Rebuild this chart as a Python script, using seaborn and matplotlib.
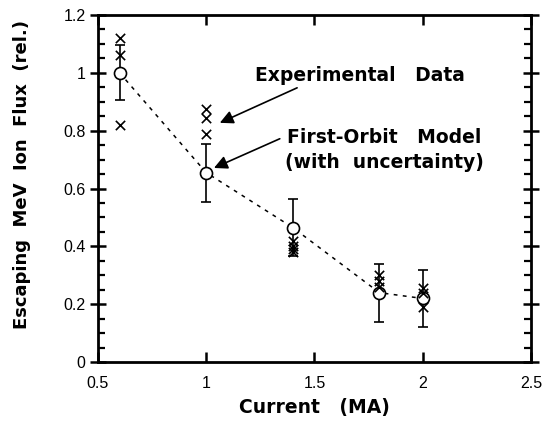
import numpy as np
import pandas as pd
import matplotlib
matplotlib.use("Agg")
import matplotlib.pyplot as plt
from matplotlib.ticker import MultipleLocator
import seaborn as sns

# Model prediction (first-orbit loss) with its uncertainty
model_current = [0.6, 1.0, 1.4, 1.8, 2.0]
model_flux = [1.0, 0.655, 0.465, 0.24, 0.22]
model_err = [0.095, 0.10, 0.10, 0.10, 0.10]

# Measured escaping flux
exp_current = [0.6, 0.6, 0.6, 1.0, 1.0, 1.0, 1.4, 1.4, 1.4, 1.4,
               1.8, 1.8, 1.8, 2.0, 2.0, 2.0]
exp_flux = [1.12, 1.06, 0.82, 0.875, 0.845, 0.79, 0.42, 0.40, 0.39, 0.38,
            0.30, 0.28, 0.26, 0.255, 0.24, 0.19]

x_ticks = [0.5, 1, 1.5, 2, 2.5]
x_ticklabels = ["0.5", "1", "1.5", "2", "2.5"]
y_ticks = [0, 0.2, 0.4, 0.6, 0.8, 1.0, 1.2]
y_ticklabels = ["0", "0.2", "0.4", "0.6", "0.8", "1", "1.2"]

sns.set_theme(style="ticks")
plt.rcParams["font.family"] = ["Liberation Sans", "DejaVu Sans"]
plt.rcParams["text.color"] = "black"
plt.rcParams["axes.labelcolor"] = "black"
bold_font = dict(family="DejaVu Sans", fontweight="bold", fontsize=13.5,
                 color="black")

model = pd.DataFrame({"current": model_current, "flux": model_flux})
exp = pd.DataFrame({"current": exp_current, "flux": exp_flux})

fig = plt.figure(figsize=(5.44, 4.26), dpi=100)
ax = fig.add_axes([0.180, 0.150, 0.796, 0.815])

sns.lineplot(data=model, x="current", y="flux", ax=ax, color="black",
             linestyle=(0, (2.5, 3.5)), linewidth=1.1, zorder=2)
ax.errorbar(model_current, model_flux, yerr=model_err, fmt="none",
            ecolor="black", elinewidth=1.2, capsize=3.5, capthick=1.2, zorder=3)
sns.scatterplot(data=model, x="current", y="flux", ax=ax, marker="o", s=75,
                facecolor="white", edgecolor="black", linewidth=1.2, zorder=4)
sns.scatterplot(data=exp, x="current", y="flux", ax=ax, marker="x", s=45,
                color="black", linewidth=1.2, zorder=5)

ax.set_xlim(0.5, 2.5)
ax.set_ylim(0, 1.2)
ax.set_xticks(x_ticks)
ax.set_xticklabels(x_ticklabels)
ax.set_yticks(y_ticks)
ax.set_yticklabels(y_ticklabels)
ax.yaxis.set_minor_locator(MultipleLocator(0.05))

for side in ["top", "right", "left", "bottom"]:
    ax.spines[side].set_visible(True)
    ax.spines[side].set_linewidth(2.0)
    ax.spines[side].set_color("black")

ax.tick_params(axis="y", which="major", direction="inout", length=12, width=1.8,
               left=True, right=True, labelsize=11.5, pad=3, colors="black")
ax.tick_params(axis="y", which="minor", direction="in", length=5, width=1.6,
               left=True, right=True, colors="black")
ax.tick_params(axis="x", which="major", direction="in", length=7, width=1.8,
               bottom=True, top=True, labelsize=11.5, pad=10, colors="black")

ax.set_xlabel("Current   (MA)", labelpad=5, **bold_font)
ax.set_ylabel("Escaping  MeV  Ion  Flux  (rel.)", **{**bold_font, "fontsize": 13})
ax.yaxis.set_label_coords(-0.155, 0.54)

arrow = dict(arrowstyle="-|>", color="black", lw=1.2, mutation_scale=20,
             shrinkA=0, shrinkB=0)
ax.annotate("", xy=(1.063, 0.827), xytext=(1.42, 0.948), arrowprops=arrow)
ax.annotate("", xy=(1.036, 0.671), xytext=(1.34, 0.772), arrowprops=arrow)
ax.text(1.225, 0.99, "Experimental   Data", ha="left", va="center", **bold_font)
ax.text(1.373, 0.775, "First-Orbit   Model", ha="left", va="center", **bold_font)
ax.text(1.365, 0.69, "(with  uncertainty)", ha="left", va="center", **bold_font)

fig.savefig("out.png", dpi=100, facecolor="white")
